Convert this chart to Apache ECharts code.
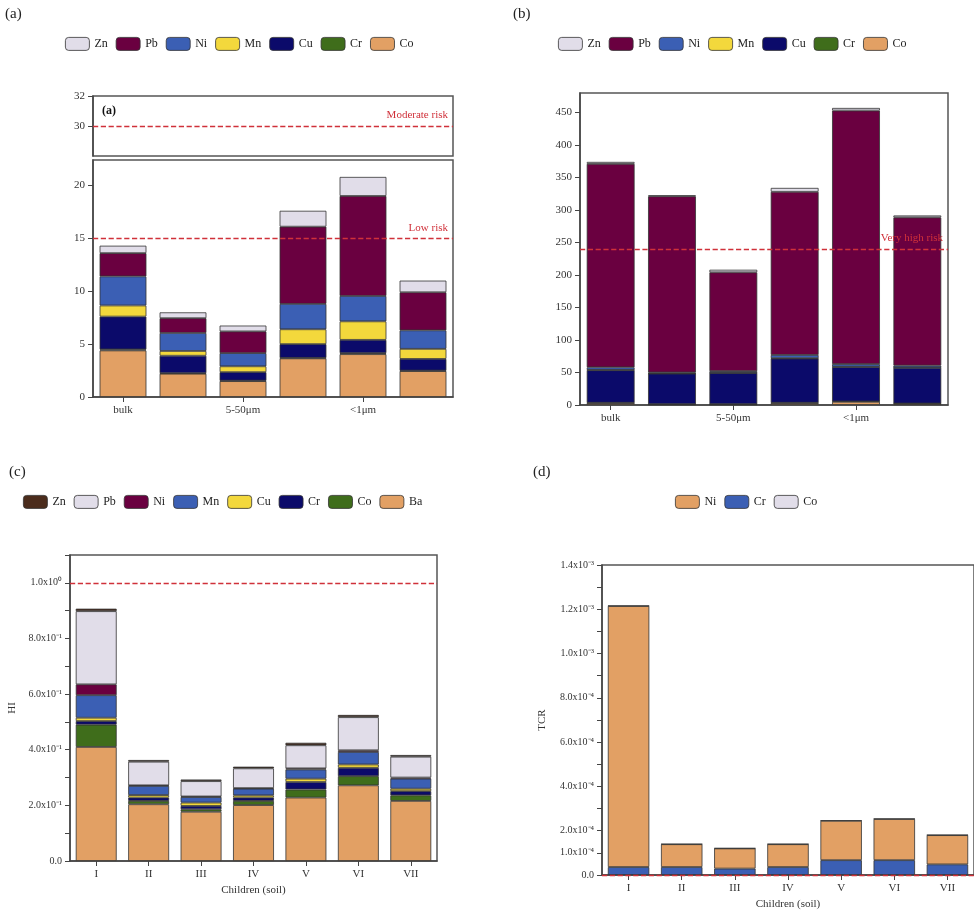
<!DOCTYPE html>
<html><head><meta charset="utf-8">
<script src="https://cdn.jsdelivr.net/npm/echarts@6/dist/echarts.min.js"></script>
<style>html,body{margin:0;background:#fff}#c{width:974px;height:912px}</style></head>
<body><div id="c"></div>
<script>
// ---- data ----
const catsAB = ['bulk','50-250μm','5-50μm','1-5μm','<1μm','Adjusted-bulk'];
const elemsAB = ['Co','Cr','Cu','Mn','Ni','Pb','Zn']; // bottom to top
const aVals = {
  Co:[4.4,2.2,1.5,3.65,4.05,2.45],
  Cr:[0.1,0.05,0.05,0.05,0.1,0.05],
  Cu:[3.1,1.65,0.8,1.3,1.25,1.1],
  Mn:[1.05,0.45,0.55,1.4,1.75,0.95],
  Ni:[2.75,1.7,1.25,2.4,2.4,1.75],
  Pb:[2.2,1.4,2.05,7.3,9.45,3.6],
  Zn:[0.7,0.55,0.55,1.5,1.8,1.1]
};
const bVals = {
  Co:[3,1,1,3,5,2],
  Cr:[0.5,0.3,0.3,0.5,0.5,0.3],
  Cu:[50,47,48,68,53,55],
  Mn:[0.5,0.3,0.3,0.5,0.5,0.3],
  Ni:[4,1.5,2.5,5,4,3],
  Pb:[313,271,152,251,390,228],
  Zn:[3,1.5,4,6,4,3]
};
const catsCD = ['I','II','III','IV','V','VI','VII'];
const elemsC = ['Ba','Co','Cr','Cu','Mn','Ni','Pb','Zn'];
const cVals = {
  Ba:[0.41,0.204,0.177,0.201,0.228,0.272,0.216],
  Co:[0.08,0.012,0.009,0.015,0.029,0.033,0.02],
  Cr:[0.013,0.012,0.012,0.012,0.027,0.03,0.015],
  Cu:[0.012,0.009,0.012,0.008,0.012,0.012,0.009],
  Mn:[0.081,0.033,0.02,0.024,0.033,0.045,0.036],
  Ni:[0.039,0.002,0.002,0.002,0.004,0.006,0.004],
  Pb:[0.263,0.085,0.055,0.071,0.083,0.119,0.075],
  Zn:[0.009,0.006,0.006,0.006,0.009,0.008,0.006]
};
const elemsD = ['Cr','Ni','Co'];
const dVals = {
  Cr:[3.6e-5,3.6e-5,2.9e-5,3.6e-5,6.7e-5,6.7e-5,4.8e-5],
  Ni:[1.179e-3,1.03e-4,9.1e-5,1.03e-4,1.78e-4,1.86e-4,1.32e-4],
  Co:[1e-6,1e-6,1e-6,1e-6,1e-6,1e-6,1e-6]
};
const cLabels = {0:'0.0',0.2:'2.0x10⁻¹',0.4:'4.0x10⁻¹',0.6:'6.0x10⁻¹',0.8:'8.0x10⁻¹',1:'1.0x10⁰'};

// ---- styles ----
const colAB = {Zn:'#e1dde9',Pb:'#6a0040',Ni:'#3b5fb4',Mn:'#f3d83c',Cu:'#0b0a6a',Cr:'#3f6d1b',Co:'#e2a064'};
const colC = {Zn:'#4b2c1c',Pb:'#e1dde9',Ni:'#6a0040',Mn:'#3b5fb4',Cu:'#f3d83c',Cr:'#0b0a6a',Co:'#3f6d1b',Ba:'#e2a064'};
const colD = {Ni:'#e2a064',Cr:'#3b5fb4',Co:'#e1dde9'};
const F = 'Liberation Serif';
const axisLine = {show:true,lineStyle:{color:'#444',width:1.5}};
const lbl = {fontFamily:F,fontSize:11,color:'#333'};

function bars(prefix, elems, vals, col, xi, yi, stack){
  return elems.map(e => ({
    name: prefix+':'+e, type:'bar', stack: stack, xAxisIndex:xi, yAxisIndex:yi,
    data: vals[e], barWidth:'78%',
    itemStyle:{color:col[e], borderColor:'#333', borderWidth:0.8}
  }));
}
function ml(value, text, pos){
  return {silent:true, symbol:'none', lineStyle:{color:'#d0313a',type:'dashed',width:1.3},
    label:{show:!!text, formatter:text, position:pos||'insideEndTop', color:'#d0313a', fontFamily:F, fontSize:11},
    data:[{yAxis:value}]};
}

const series = [];
// a lower
const aLow = bars('a',elemsAB,aVals,colAB,0,0,'a');
aLow[0].markLine = ml(15,'Low risk');
series.push(...aLow);
// a upper (empty bars to carry markline)
series.push({name:'a:up',type:'bar',xAxisIndex:1,yAxisIndex:1,data:[],markLine:ml(30,'Moderate risk')});
const bS = bars('b',elemsAB,bVals,colAB,2,2,'b');
bS[0].markLine = {silent:true,symbol:'none',lineStyle:{color:'#d0313a',type:'dashed',width:1.3},
  label:{show:true,position:'insideEndTop',color:'#d0313a',fontFamily:F,fontSize:11},
  data:[{yAxis:240,label:{formatter:'Very high risk'}},{yAxis:480,lineStyle:{opacity:0},label:{formatter:'Extremely high risk',position:'insideEndBottom'}}]};
series.push(...bS);
const cS = bars('c',elemsC,cVals,colC,3,3,'c');
cS[0].markLine = ml(1.0,'');
series.push(...cS);
const dS = bars('d',elemsD,dVals,colD,4,4,'d');
dS[0].markLine = ml(1e-4,'');
series.push(...dS);

const legendBase = {itemWidth:24,itemHeight:13,itemGap:8,textStyle:{fontFamily:F,fontSize:12,color:'#222'},
  formatter:n=>n.split(':')[1], selectedMode:false, itemStyle:{borderColor:'#333',borderWidth:0.8}};
const legOrderAB = ['Zn','Pb','Ni','Mn','Cu','Cr','Co'];

const catAxis = (cats,gi,show)=>({type:'category',gridIndex:gi,data:cats,show:show!==false,
  axisLine:axisLine,axisTick:{show:true,alignWithLabel:true,inside:false},axisLabel:Object.assign({},lbl,{fontSize:11})});

const option = {
  animation:false,
  title:[
    {text:'(a)',left:0,top:2,textStyle:{fontFamily:F,fontSize:15,fontWeight:'normal',color:'#222'}},
    {text:'(b)',left:508,top:2,textStyle:{fontFamily:F,fontSize:15,fontWeight:'normal',color:'#222'}},
    {text:'(c)',left:4,top:460,textStyle:{fontFamily:F,fontSize:15,fontWeight:'normal',color:'#222'}},
    {text:'(d)',left:528,top:460,textStyle:{fontFamily:F,fontSize:15,fontWeight:'normal',color:'#222'}},
    {text:'(a)',left:97,top:100,textStyle:{fontFamily:F,fontSize:12,fontWeight:'bold',color:'#111'}}
  ],
  legend:[
    Object.assign({},legendBase,{left:60,top:32,data:legOrderAB.map(e=>'a:'+e)}),
    Object.assign({},legendBase,{left:553,top:32,data:legOrderAB.map(e=>'b:'+e)}),
    Object.assign({},legendBase,{left:18,top:490,data:['Zn','Pb','Ni','Mn','Cu','Cr','Co','Ba'].map(e=>'c:'+e)}),
    Object.assign({},legendBase,{left:670,top:490,data:['Ni','Cr','Co'].map(e=>'d:'+e)})
  ],
  grid:[
    {left:93,top:160,width:360,height:237,show:true,borderColor:'#555',borderWidth:1.5},
    {left:93,top:96,width:360,height:60,show:true,borderColor:'#555',borderWidth:1.5},
    {left:580,top:93,width:368,height:312,show:true,borderColor:'#555',borderWidth:1.5},
    {left:70,top:555,width:367,height:306,show:true,borderColor:'#555',borderWidth:1.5},
    {left:602,top:565,width:380,height:310,show:true,borderColor:'#555',borderWidth:1.5}
  ],
  xAxis:[
    catAxis(catsAB,0),
    {type:'category',gridIndex:1,data:catsAB,axisLine:{show:false},axisTick:{show:false},axisLabel:{show:false}},
    catAxis(catsAB,2),
    Object.assign(catAxis(catsCD,3),{name:'Children (soil)',nameLocation:'middle',nameGap:24,nameTextStyle:{fontFamily:F,fontSize:11,color:'#333'}}),
    Object.assign(catAxis(catsCD,4),{name:'Children (soil)',nameLocation:'middle',nameGap:24,nameTextStyle:{fontFamily:F,fontSize:11,color:'#333'}})
  ],
  yAxis:[
    {type:'value',gridIndex:0,min:0,max:22.4,interval:5,axisLine:axisLine,axisTick:{show:true},splitLine:{show:false},axisLabel:Object.assign({showMaxLabel:false},lbl)},
    {type:'value',gridIndex:1,min:28,max:32,interval:2,axisLine:axisLine,axisTick:{show:true},splitLine:{show:false},axisLabel:Object.assign({showMinLabel:false},lbl)},
    {type:'value',gridIndex:2,min:0,max:480,interval:50,axisLine:axisLine,axisTick:{show:true},splitLine:{show:false},axisLabel:Object.assign({showMaxLabel:false},lbl)},
    {type:'value',gridIndex:3,min:0,max:1.1,interval:0.1,name:'HI',nameLocation:'middle',nameGap:52,nameTextStyle:{fontFamily:F,fontSize:11,color:'#333'},
      axisLine:axisLine,axisTick:{show:true},splitLine:{show:false},
      axisLabel:Object.assign({},lbl,{fontSize:10,formatter:v=>{const k=Math.round(v*10)/10;return (Math.round(v*10)%2===0 && cLabels[k]!==undefined)?cLabels[k]:'';}})},
    {type:'value',gridIndex:4,min:0,max:1.4e-3,interval:1e-4,name:'TCR',nameLocation:'middle',nameGap:54,nameTextStyle:{fontFamily:F,fontSize:11,color:'#333'},
      axisLine:axisLine,axisTick:{show:true},splitLine:{show:false},
      axisLabel:Object.assign({},lbl,{fontSize:10,formatter:v=>{const n=Math.round(v*1e4);
        if(n===0)return '0.0'; if(n===1)return '1.0x10⁻⁴'; if(n%2)return '';
        return n<10?(n+'.0x10⁻⁴'):((n/10).toFixed(1)+'x10⁻³');}})}
  ],
  series:series
};
const chart = echarts.init(document.getElementById('c'));
chart.setOption(option);
</script></body></html>
